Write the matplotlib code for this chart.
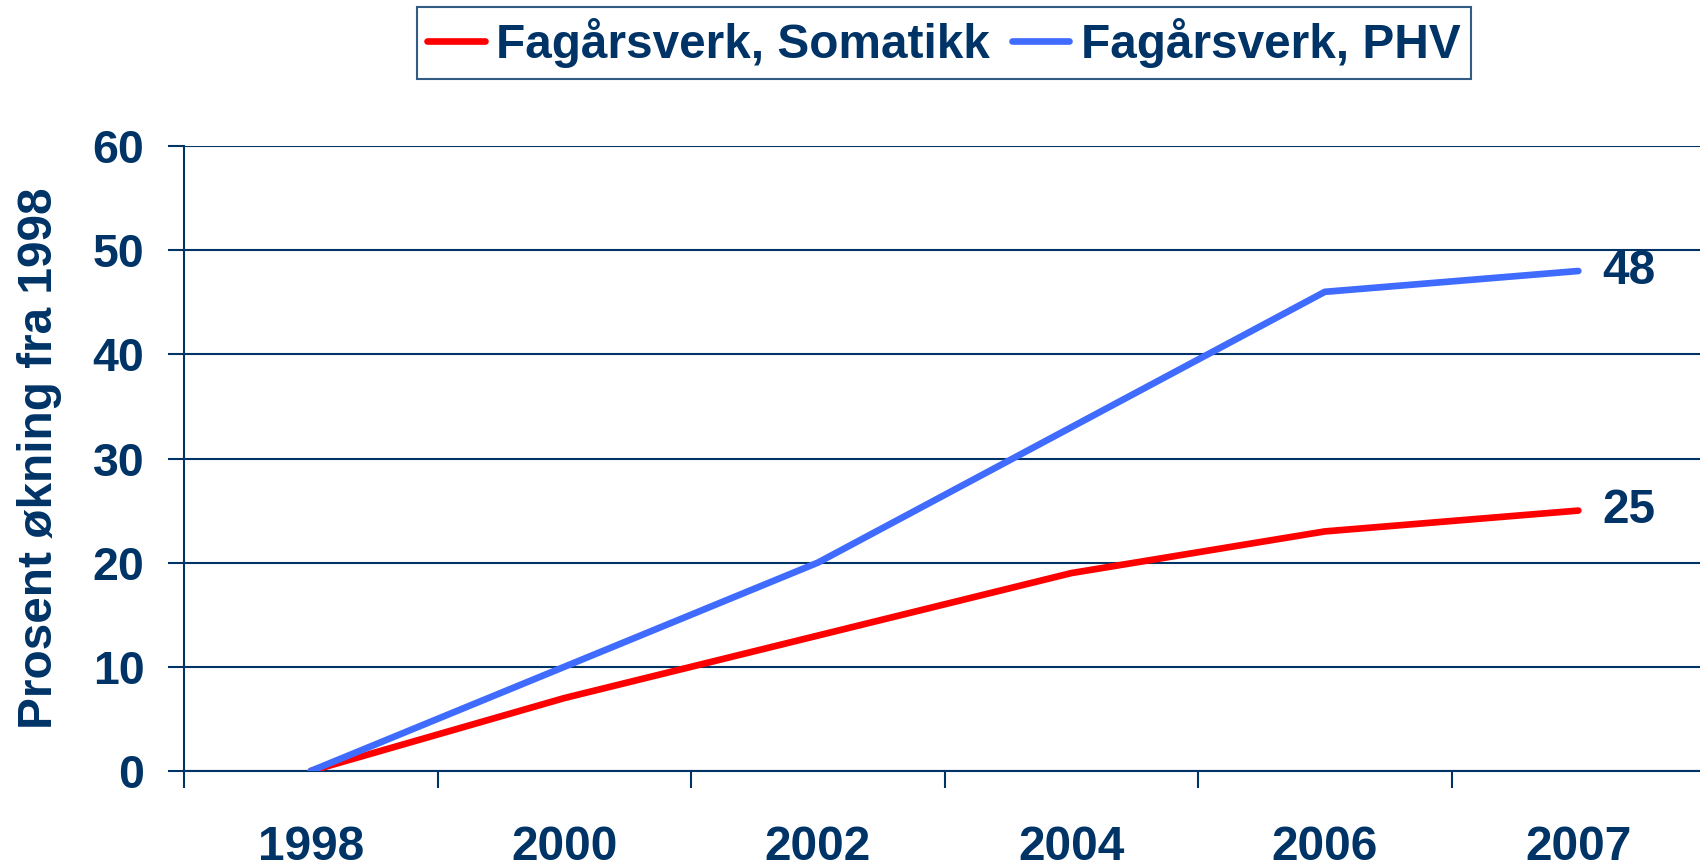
import matplotlib
matplotlib.use("Agg")
import matplotlib.pyplot as plt
import numpy as np

years = ["1998", "2000", "2002", "2004", "2006", "2007"]
somatikk = [0, 7, 13, 19, 23, 25]
phv = [0, 10, 20, 33, 46, 48]
series_names = ["Fagårsverk, Somatikk", "Fagårsverk, PHV"]
yticks = [0, 10, 20, 30, 40, 50, 60]

navy = "#003366"
red = "#FF0000"
blue = "#3F6BFF"

plt.rcParams['font.family'] = ['Liberation Sans', 'DejaVu Sans']
plt.rcParams['font.weight'] = 'bold'

fig = plt.figure(figsize=(17, 8.67), dpi=100)
ax = fig.add_axes([184/1700, 1-771/867, 1-184/1700 + 0.003, (771-146)/867])

x = np.arange(len(years)) + 0.5
ax.plot(x, somatikk, color=red, lw=4.8, solid_capstyle='round', solid_joinstyle='round', label=series_names[0], zorder=3)
ax.plot(x, phv, color=blue, lw=4.8, solid_capstyle='round', solid_joinstyle='round', label=series_names[1], zorder=3)

ax.set_xlim(0, len(years))
ax.set_ylim(0, 60)
ax.set_yticks(yticks)
ax.set_yticklabels([str(v) for v in yticks])
ax.set_xticks(np.arange(len(years) + 1))
ax.set_xticklabels([""] * (len(years) + 1))
ax.set_xticks(x, minor=True)
ax.set_xticklabels(years, minor=True)

ax.grid(axis='y', color=navy, lw=1.5, zorder=1)
ax.set_axisbelow(True)
for s in ['top', 'right']:
    ax.spines[s].set_visible(False)
for s in ['left', 'bottom']:
    ax.spines[s].set_color(navy)
    ax.spines[s].set_linewidth(1.5)

ax.tick_params(axis='y', which='major', direction='out', length=11.5, width=1.5, color=navy,
               labelcolor=navy, labelsize=33.5, pad=17)
ax.tick_params(axis='x', which='major', direction='out', length=12, width=1.5, color=navy)
ax.tick_params(axis='x', which='minor', length=0, labelcolor=navy, labelsize=34.5, pad=39)
for lbl in ax.get_yticklabels() + ax.get_xticklabels(minor=True):
    lbl.set_fontweight('bold')

ax.set_ylabel("Prosent økning fra 1998", color=navy, fontsize=34.4, fontweight='bold')
ax.yaxis.set_label_coords(-(184-62) / (1700-184), 0.5)

ax.annotate(str(somatikk[-1]), xy=(x[-1], somatikk[-1]), xytext=(17, 0), textcoords='offset points',
            ha='left', va='center', color=navy, fontsize=34.5, fontweight='bold')
ax.annotate(str(phv[-1]), xy=(x[-1], phv[-1]), xytext=(17, 0), textcoords='offset points',
            ha='left', va='center', color=navy, fontsize=34.5, fontweight='bold')

leg = fig.legend(loc='center', bbox_to_anchor=(944/1700, 1-43/867), ncol=2, frameon=True,
                 fancybox=False, fontsize=34.4, handlelength=1.2, handletextpad=0.25,
                 columnspacing=0.45, borderpad=0.22, borderaxespad=0)
leg.get_frame().set_edgecolor(navy)
leg.get_frame().set_linewidth(1.5)
for t in leg.get_texts():
    t.set_color(navy)
    t.set_fontweight('bold')

fig.savefig("out.png", dpi=100, facecolor='white')
